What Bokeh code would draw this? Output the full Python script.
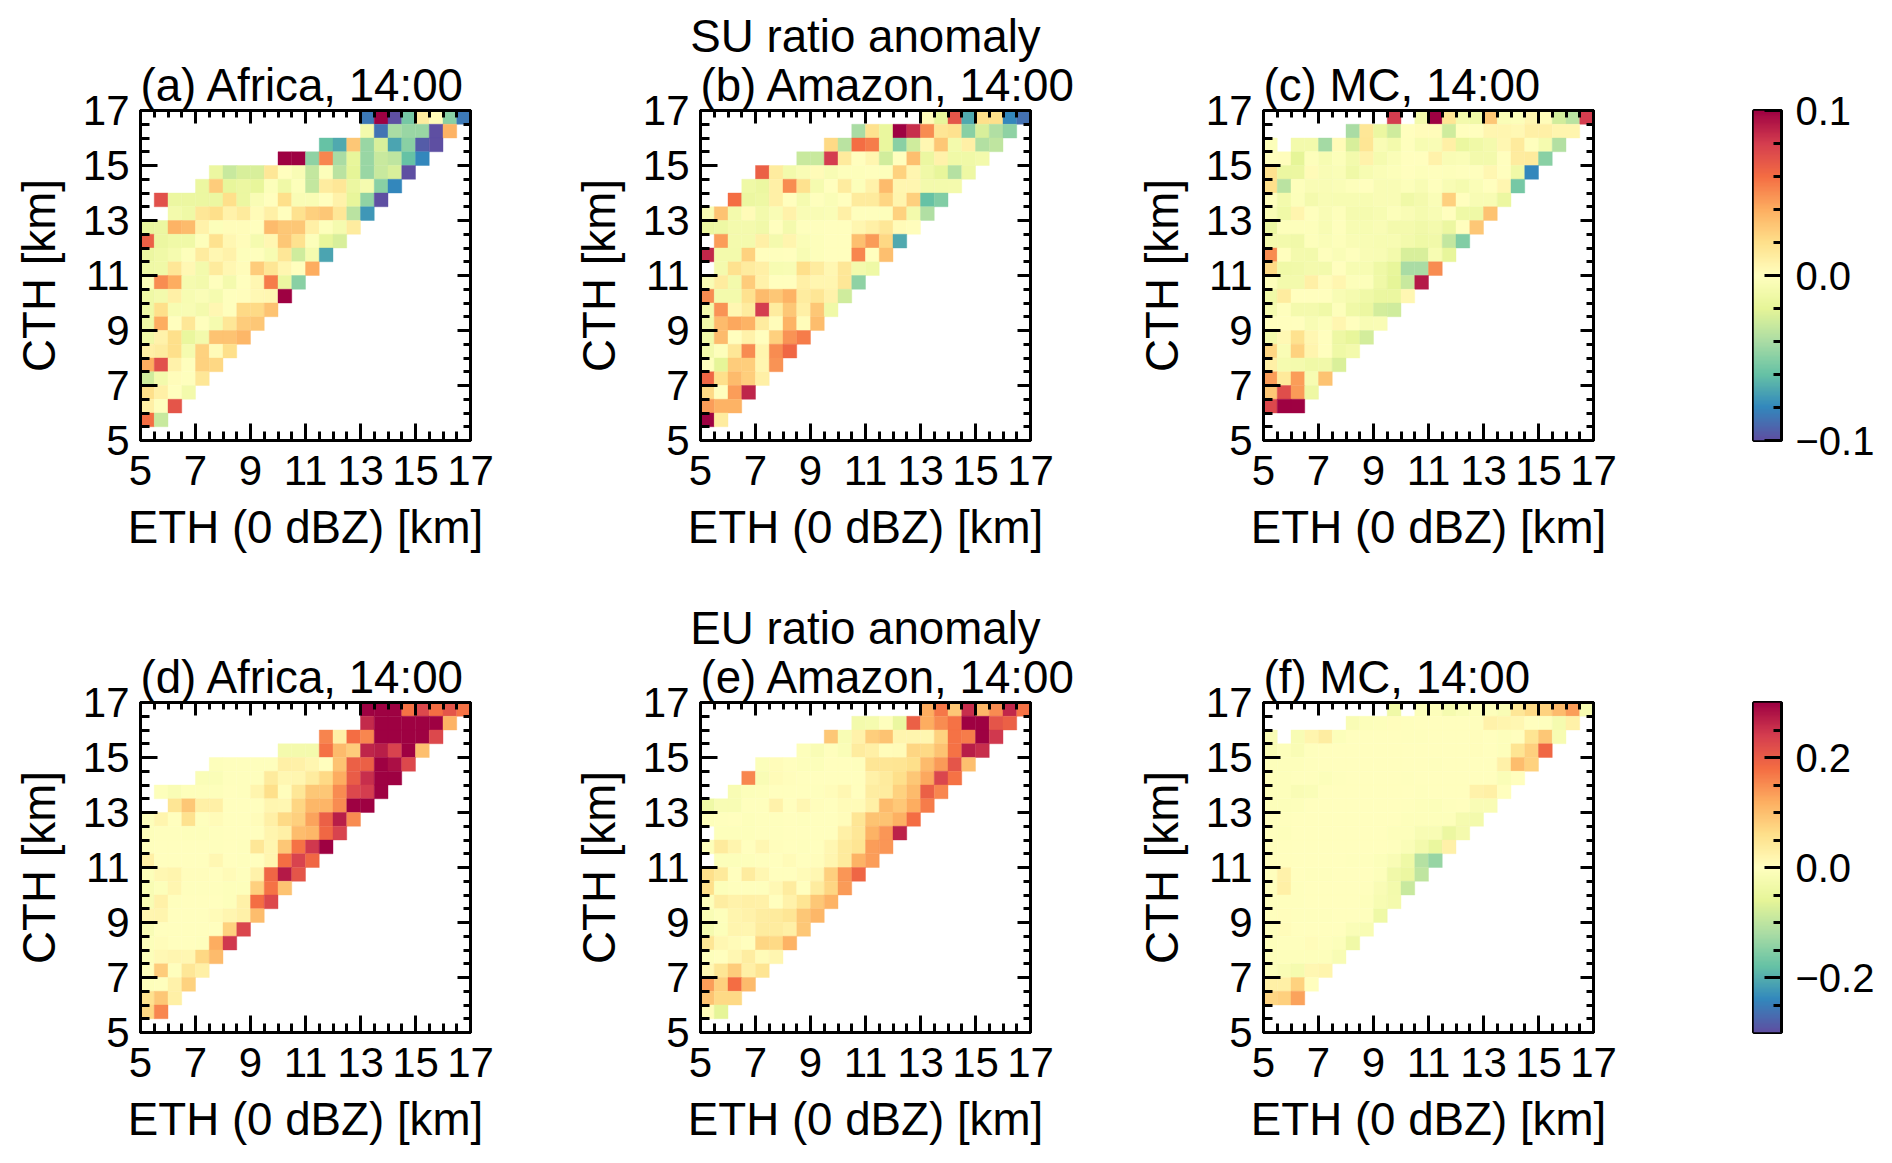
from bokeh.plotting import figure
from bokeh.layouts import column, row
from bokeh.models import Range1d, FixedTicker, LinearAxis, LinearColorMapper, ColumnDataSource, Title
from bokeh.palettes import Spectral11
from bokeh.embed import file_html
from bokeh.resources import INLINE
import numpy as np

# Values are in tenths of each row's colour-scale limit; rows run from the 16.5-17 km bin down.
A_START = [16,16,13,10,5,4,1,2,0,0,0,0,0,0,0,0,0,0,0,0,0,0,0]
A_ROWS = [
 [-8.5,10,-10,-5.5,1.2,0.3,-5,-8.5],
 [-1,-8.7,-4,-4.5,-4.5,-10,3.8],
 [-6,-6.8,3,-4.5,-2.5,-7,-5,-9.5,-10],
 [10,10,-4.8,5.2,-4,-1.8,-4.5,-3,-3.3,-6,-8],
 [-1.5,-3,-2.5,-2.5,1.5,0,-0.5,-3.2,-0.3,-3.5,-2,-4.5,-3,-2.5,-10],
 [-1.5,2.8,-1.8,-1.5,-1.8,-0.3,-1.2,-0.3,-3.2,1.2,1.5,-1.5,-0.8,-5,-8],
 [7.2,-1.5,-1.5,-1.5,-1.5,2,-1.5,-0.5,0,2,-0.5,-0.5,0,0.8,-1.8,-4.7,-10],
 [-1,-1.3,1.5,2,0.8,1.3,0.3,1,0,1.8,2.6,3,1.5,-3.5,-7.5],
 [-1.7,-1.5,3.8,3.5,0.8,-0.3,0.2,0.2,0,3.5,3,3,1,-0.2,-0.8,1.2],
 [6.5,-1.5,-1.2,-1.2,-0.2,1.8,0.5,0.2,-0.8,0.5,3,1.8,-0.3,-1.8,-2.5],
 [-1.5,-1.2,-0.8,-0.2,1.2,0.5,0.8,-0.2,-0.1,-0.7,1.5,-2.8,-0.8,-7],
 [-1.3,-1.2,1.5,0.4,-1,1.3,0.5,0.2,2.8,1.6,0.6,0,4],
 [-0.3,5,4,-0.8,-1,-0.1,-0.9,0,0.5,5.5,-1.5,-5],
 [-1.3,-1,1,-0.7,-0.4,-0.8,-0.1,0.1,0.4,0.5,10],
 [-1.3,2,-0.7,-0.6,-0.9,0.5,-0.1,2.2,2.2,3.2],
 [-1.3,4,0,1.5,-0.1,-0.8,1.5,2.8,3],
 [-1.2,0.8,2,-1.7,-1,3.2,3.2,3.6],
 [1,1.2,2,-0.8,2.5,0.3,2],
 [4,7.2,0.8,-0.1,2.5,2.3],
 [-2.8,-1,0.2,-0.1,1.5],
 [2,1,0,-1],
 [1,-0.1,7],
 [6,-3],
]
B_START = [16,11,9,7,4,3,2,0,0,1,0,1,0,0,0,0,0,0,0,0,0,0,0]
B_ROWS = [
 [0.2,-1.8,7,-6.8,2,2,-8,-8.8],
 [-4,1.8,-1.7,10,8.5,5,1.6,1.8,-5,-2.5,-3.8,-4.8],
 [2.2,-3.5,6,5.5,-1.7,-5,-2.8,0.5,3,-1,1,-3.7,-3.3],
 [-3,-3,8,1.3,0,0.6,-2.7,0,3.3,-1.5,0.8,-1.2,-1.2,-1],
 [6.5,1.2,-1,-0.5,0.3,-0.6,-0.2,-0.2,-0.1,-0.2,2.5,0.6,-1.2,-1.8,-3.6,-1.4],
 [-1.3,-1.5,1,5,1.8,-0.8,0,1.2,-0.3,0.8,3.5,0.6,0.6,-1,-1,-0.9],
 [6,-1.5,-1.4,1,0,-0.8,-0.1,-0.4,0,1.3,1.3,2.4,0.7,2.6,-6,-5.2],
 [-0.5,3.2,-1,0.3,-1,-0.5,0.8,-0.5,-0.5,-0.4,1,-0.1,-0.1,-0.2,2.5,-1,-3.8],
 [-1.5,-1.4,-0.9,-0.9,-1.1,0,-0.9,-0.1,-0.1,0,0,0.6,1,1.5,0.3,0.1],
 [4.5,-0.9,-0.9,1,-0.9,0.7,-0.4,-0.2,0,0,3.3,4.6,2.3,-6.8],
 [8.7,-1,-1,2.5,0,-0.1,0,-0.6,-0.2,0,0,5.2,0,3.3],
 [-0.9,1.8,1.2,1,-0.7,-0.6,2,1.2,0.5,1.5,-1,-1.3],
 [-0.5,1.2,-1,2.8,0.8,0,0,1,0.6,0.6,1.5,-4.8],
 [5,-1,-1,1.8,3.5,3,3.8,1.2,1.6,0.8,-2.8],
 [-1,4.8,0.5,1.2,8,1.2,3,1,3,-1.2],
 [-1.1,3.5,4.2,3.8,1.2,0.2,3.8,0.2,3.4],
 [-1.1,3.5,0,0.8,0,2.6,4.8,5.5],
 [-1,-0.2,1.5,5,0.7,5,6.2],
 [-0.1,-2,2.8,2.7,0.6,4.8],
 [6.3,2,3.5,2.7,1],
 [2.2,0,4.5,8.8],
 [4.5,3.8,3.8],
 [10,1.2],
]
C_START = [9,6,0,0,0,0,0,0,0,0,0,0,0,0,0,0,0,0,0,0,0,0]
C_ROWS = [
 [8,None,-1,10,1.6,-1,-1.2,3,-0.4,-0.3,0.6,0.2,-2.7,-3.5,8],
 [-4,1.5,-1.5,-2.8,0,0.2,0.2,-2.8,0,0,0.6,0.6,0.4,1,1,0.7,0.7],
 [-0.3,None,-1,-1,-4.2,0.3,-2.5,1.6,-0.5,-1,-0.1,-0.7,-0.5,1,-1.6,-1.2,-0.9,0.5,1.3,-0.1,-0.8,-3.7],
 [0,0.1,-2,-0.2,-0.7,-0.3,-1,0.8,-0.8,-0.4,0,0,0.8,-0.5,-0.4,-1,-1,0,1.2,1.3,-5],
 [1.8,-1.5,-1.5,0.3,-0.5,-0.4,-1.2,-0.7,-0.4,-0.3,0,-0.2,-0.1,-0.2,-0.1,-0.1,0.5,0,-1.2,-8],
 [2,-3.5,-0.2,-0.5,-0.5,-0.4,-0.2,0,-0.5,-0.5,-0.3,-0.6,-0.1,-0.6,-0.8,-0.4,0,0.6,-5.5],
 [-0.1,-1,-0.3,-0.9,-0.6,-0.7,-0.7,-0.7,-0.5,-0.5,-1.2,-0.9,-0.4,2.6,0,-0.6,-0.6,-1.5],
 [-0.5,-1.2,0.7,-0.1,-0.5,-0.2,-0.8,-0.8,-0.7,-0.3,-0.5,-0.8,-0.6,0,-1.3,-1.3,3.2],
 [-1.5,-0.2,-0.2,-0.2,-0.6,-0.1,-0.7,-0.7,-0.5,-0.9,-0.9,-1.1,-0.9,-1.5,0,3],
 [-0.9,-1,-1.1,-0.2,-0.4,-0.2,-0.5,-0.6,-0.7,-0.7,-1,-1.3,-1.1,-3.2,-5.2],
 [5,0,-0.9,-1,-0.1,-0.4,-0.1,-0.5,-0.6,-1,-2.5,-2.5,-0.7,-1.8],
 [2.2,-1.2,-1.1,-0.9,-1,0,-0.7,-0.7,-1.3,-1.8,-4,-4,5],
 [-0.2,-1,-1,1,0.2,0.6,-0.3,-0.3,-1.2,-2,-3,9.2],
 [-1.2,1.2,0,0,0,-0.6,-0.8,-1.2,-1.6,-1.6,0.5],
 [-0.8,-0.1,-0.9,-0.9,-1.2,-0.2,-1.2,-1.5,-2.6,-2.8],
 [0,0,0,-0.6,-0.3,0.6,0,-0.6,-0.5],
 [-1,0.4,1.8,0.5,0,-1.4,-1.8,-2.6],
 [2.4,-0.5,2.5,0.7,0,-1.3,-1],
 [1,-0.8,-0.9,-1.2,-1.1,-2.4],
 [4.5,1.4,4.5,-0.7,3.2],
 [3,7.3,4.6,-1.4],
 [7.5,10,10],
]
D_START = [16,16,13,10,5,4,1,2,0,0,0,0,0,0,0,0,0,0,0,0,0,0,0]
D_ROWS = [
 [10,10,10,5.8,7.5,6,7,5.8],
 [8.6,10,10,10,10,10,3.8],
 [5.3,1,6,5.2,10,10,10,10,7.5],
 [-0.9,-0.9,-0.9,5.8,3.5,2.8,8.8,9,7.8,10,3.3],
 [-0.2,-0.1,-0.1,-0.1,-0.1,1,0.9,0.6,0,3.2,6.5,6.5,10,9.5,7.5],
 [-0.4,-0.4,-0.1,-0.1,-0.1,1.3,0.5,0.6,1.2,2.2,4,6.7,8.5,10,10],
 [-0.2,-0.5,-0.2,-0.2,-0.2,0,-0.1,0.7,2,0.1,1.5,3,3,5,7.5,8,10],
 [1.6,3,1,1,0,0,0,0.6,0.5,2.4,3.6,3.7,5,10,10],
 [-0.2,0.7,0,1.8,-0.1,0.3,0,0,0.2,1,2.2,2.6,4.3,6.5,9,5],
 [-0.2,-0.1,-0.1,-0.2,-0.2,-0.1,0,0,0,0.7,1,3.4,3.6,6.2,7.8],
 [-0.1,0,0,0,0,-0.1,0,-0.1,1.5,0.6,3,5.8,8.2,10],
 [1,0,0,0,0,0.5,0,-0.1,0,0.6,6,7.8,6.2],
 [-0.3,0.5,0.7,0.1,0.1,0,0.3,-0.1,0.8,6.3,9.2,7],
 [-0.6,-0.3,0.6,-0.1,-0.1,-0.1,-0.2,-0.2,2.6,5.8,3.2],
 [-0.6,0.9,-0.1,0,0,0,-0.2,0.9,6,7.5],
 [0.6,0.7,0,0,0,0.3,0.6,0.9,3.4],
 [-0.5,0,0,0,0,0,2.5,7.6],
 [-0.3,0.2,0,0,-0.1,4,8.2],
 [-0.3,0.4,0.6,0.5,2.3,3.5],
 [-0.1,2.8,-0.1,1.5,1],
 [-0.2,-0.1,0.8,2.5],
 [1.8,3,1],
 [2.3,5.2],
]
E_START = [16,11,9,7,4,3,2,0,0,1,0,1,0,0,0,0,0,0,0,0,0,0,0]
E_ROWS = [
 [4,5.7,3,8.5,3.6,5,8.7,5.8],
 [-1,-0.8,-0.1,-1.6,6.5,4,5,5.8,10,10,7,6.5],
 [3,-0.6,0.8,2.7,3.2,0.7,0.7,0.6,2.5,5.8,5.5,10,8.2],
 [-0.2,-0.5,-0.1,-0.4,1.2,1,0.2,0.3,2.4,2.2,3.2,5.8,9,8.5],
 [-0.3,0.2,0,-0.2,-0.3,0,0,-0.1,1.6,1.6,1.7,2,3.5,4.6,7,3.3],
 [5.2,-0.5,0.3,0.1,0,0,0,0,0,0.9,1.3,2,3,4.2,7.6,5.8],
 [-0.6,-0.3,-0.2,0,0,0,-0.1,0.2,0.5,0,1.1,1.2,2.5,3.5,6.5,5.2],
 [-1.3,-0.6,-0.6,-0.1,-0.1,0.8,0,0.5,0.1,0,0.3,0.3,1,3.5,2.9,4,5.5],
 [-0.2,-0.1,0,-0.2,-0.1,-0.1,0,-0.1,0,0,0.2,1.6,3.2,3.2,3.9,6],
 [-0.2,-0.2,-0.2,-0.1,-0.1,0,0,0,0,1,1.5,3.8,4.7,8.9],
 [-0.2,1.3,0.7,0,0.5,0.1,0,-0.1,0,0.5,1.3,1.7,4.5,4.7],
 [-0.3,-0.3,-0.2,-0.1,0,0.3,0,0.1,0.6,1.3,3.8,4.5],
 [2,1.4,0,1.2,0.5,0,0,0.3,0.5,2.6,4.7,6.3],
 [2,-0.3,-0.1,-0.1,-0.1,0.4,1.2,0,1.2,2.4,4.6],
 [-0.2,1.1,0.8,1,0.9,0,0.8,1.7,3,3.8],
 [-0.5,-0.2,0.7,0.8,1.1,1.3,1.6,3,3.6],
 [-0.8,-0.3,0.7,0.6,1.2,1.2,1,3],
 [1.6,0.5,0.3,0,2.4,2.2,3.8],
 [-0.2,0,0.5,1.1,0.3,0.6],
 [0.4,1.6,2.8,1,1.7],
 [4.5,2.6,6,3.5],
 [3.2,2.2,2.2],
 [0.2,-2],
]
F_START = [9,6,0,0,0,0,0,0,0,0,0,0,0,0,0,0,0,0,0,0,0,0]
F_ROWS = [
 [-1.2,None,-0.3,-0.2,-0.8,-0.4,-0.2,-0.2,-0.5,1.5,2.2,2.5,3.5,4.5,-0.7],
 [-0.5,-0.3,-0.2,0.1,-0.1,0,0,0,0,-0.1,0.8,0.7,0.5,0,-0.1,-0.8,0.9],
 [-0.5,None,-0.6,0.7,1.1,-0.3,0,0,0,0,-0.1,-0.1,0,0,0,0.1,0,-0.2,0,1.7,3,-0.7],
 [-0.5,-0.2,-0.5,-0.1,0,0,0,0,0,0,0,0,0,0,0,0.1,0,-0.2,1.7,2.6,6.2],
 [-0.2,-0.2,-0.2,-0.1,0,0,0,0,0,0,0,0,-0.1,0,0,0,0,0.9,3.4,2.5],
 [-0.2,-0.2,-0.1,-0.1,-0.3,-0.1,0,0,0,0,-0.1,0,0,0,0,0,0,-0.4,0],
 [-0.2,-0.2,-0.5,-0.4,0,0,0,0,0,0,0,-0.1,0,0,0,0.8,1,0],
 [-0.3,-0.3,-0.2,0,0,0,0,0,0,0,-0.1,-0.2,-0.3,-0.1,0,-0.5,-0.5],
 [-0.1,-0.1,0,0,0,0,0,0,0,0,-0.2,-0.2,-0.2,-0.2,-0.8,-1],
 [-0.1,-0.2,0,0,0,0,0,0,0,-0.2,-0.2,-0.6,-0.6,-1.5,-0.9],
 [-0.1,0,0,0,0,0,0,0,0,-0.1,-0.4,-1,-1.7,0.9],
 [0,0,0,0,0,0,-0.1,-0.1,-0.3,-0.5,-1.3,-3.6,-4.6],
 [-0.1,0.8,0,-0.1,-0.1,0,0,0,-0.2,-1.1,-1.5,-3.3],
 [-0.1,1,-0.1,0,0,0,0,-0.1,-0.5,-1,-3],
 [-0.1,-0.1,-0.1,0,0,0,0,-0.2,-0.7,-0.9],
 [-0.1,0.1,-0.1,-0.1,-0.1,0,0,-0.1,-1.3],
 [-0.2,0.2,0,0,0,0,-0.4,-0.6],
 [-0.2,-0.1,-0.1,0.2,-0.1,-0.3,-1.2],
 [-0.3,-0.2,-0.2,-0.2,-0.2,-0.6],
 [-0.3,-0.5,-0.8,0.5,0.7],
 [1,1,2.5,0],
 [2.4,2.6,4.3],
]

TITLES = ["(a) Africa, 14:00", "(b) Amazon, 14:00", "(c) MC, 14:00",
          "(d) Africa, 14:00", "(e) Amazon, 14:00", "(f) MC, 14:00"]
SUPTITLES = ["SU ratio anomaly", "EU ratio anomaly"]
LIMITS = [0.1, 0.3]
XLABEL = "ETH (0 dBZ) [km]"
YLABEL = "CTH [km]"
AXIS_TICKS = [5, 7, 9, 11, 13, 15, 17]

FONT = "Liberation Sans"
TICK_FS = "42px"
LABEL_FS = "45.7px"
LW = 3


def spectral(n=256):
    anchors = [tuple(int(c[i:i + 2], 16) for i in (1, 3, 5)) for c in Spectral11]
    out = []
    for k in range(n):
        t = k / (n - 1) * 10
        i = min(int(t), 9)
        f = t - i
        rgb = [round(anchors[i][j] + (anchors[i + 1][j] - anchors[i][j]) * f) for j in range(3)]
        out.append("#%02x%02x%02x" % tuple(rgb))
    return out


PALETTE = spectral()


def style_axis(ax, ticks, minor):
    ax.ticker = FixedTicker(ticks=ticks, minor_ticks=minor)
    ax.axis_line_color = "black"
    ax.axis_line_width = LW
    ax.major_tick_line_color = "black"
    ax.major_tick_line_width = LW
    ax.minor_tick_line_color = "black"
    ax.minor_tick_line_width = LW
    ax.major_tick_out = 0
    ax.minor_tick_out = 0
    ax.major_label_text_font = FONT
    ax.major_label_text_font_size = TICK_FS
    ax.major_label_text_color = "black"
    ax.axis_label_text_font = FONT
    ax.axis_label_text_font_size = LABEL_FS
    ax.axis_label_text_font_style = "normal"
    ax.axis_label_text_color = "black"


def panel(rows, starts, limit, title, left, right, top, bottom, sup=None):
    xl, xr, yb, yt, val = [], [], [], [], []
    for j, (r, s) in enumerate(zip(rows, starts)):
        for k, v in enumerate(r):
            if v is None:
                continue
            xl.append(5 + 0.5 * (s + k))
            xr.append(5.5 + 0.5 * (s + k))
            yt.append(17 - 0.5 * j)
            yb.append(16.5 - 0.5 * j)
            val.append(v * limit / 10)
    src = ColumnDataSource(dict(left=xl, right=xr, bottom=yb, top=yt, v=val))
    p = figure(frame_width=330, frame_height=330, output_backend="svg", toolbar_location=None,
               x_range=Range1d(5, 17), y_range=Range1d(5, 17),
               min_border_left=left, min_border_right=right, min_border_top=top, min_border_bottom=bottom)
    p.grid.visible = False
    p.outline_line_color = "black"
    p.outline_line_width = LW
    mapper = LinearColorMapper(palette=PALETTE, low=-limit, high=limit)
    c = {"field": "v", "transform": mapper}
    p.quad(left="left", right="right", bottom="bottom", top="top", source=src, fill_color=c, line_color=c, line_width=0.4)
    minor = [5 + 0.5 * i for i in range(25)]
    for ax in (p.xaxis[0], p.yaxis[0]):
        style_axis(ax, AXIS_TICKS, minor)
        ax.major_tick_in = 17
        ax.minor_tick_in = 9
    p.xaxis[0].axis_label = XLABEL
    p.yaxis[0].axis_label = YLABEL
    p.xaxis[0].major_label_standoff = 15
    p.yaxis[0].major_label_standoff = 11
    p.xaxis[0].axis_label_standoff = 14
    p.yaxis[0].axis_label_standoff = 15
    for side in ("right", "above"):
        ax = LinearAxis()
        style_axis(ax, AXIS_TICKS, minor)
        ax.major_tick_in = 13
        ax.minor_tick_in = 7
        ax.major_label_overrides = {t: "" for t in AXIS_TICKS}
        ax.major_label_standoff = 0
        p.add_layout(ax, side)
    tkw = dict(text_font=FONT, text_font_size=LABEL_FS, text_font_style="normal", text_color="black")
    p.title.text = sup if sup else title
    p.title.text_font = FONT
    p.title.text_font_size = LABEL_FS
    p.title.text_font_style = "normal"
    p.title.text_color = "black"
    p.title.align = "center" if sup else "left"
    p.title.standoff = -8 if sup else 0
    if sup:
        p.add_layout(Title(text=title, align="left", standoff=0, **tkw), "above")
    return p


def colorbar(limit, major, minor, labels, top, bottom):
    p = figure(frame_width=28, frame_height=330, output_backend="svg", toolbar_location=None,
               x_range=Range1d(0, 1), y_range=Range1d(-limit, limit), y_axis_location="right",
               min_border_left=113, min_border_right=100, min_border_top=top, min_border_bottom=bottom)
    p.grid.visible = False
    p.xaxis.visible = False
    p.outline_line_color = "black"
    p.outline_line_width = LW
    mapper = LinearColorMapper(palette=PALETTE, low=-limit, high=limit)
    n = len(PALETTE)
    grad = [[-limit + 2 * limit * i / (n - 1)] for i in range(n)]
    p.image(image=[np.array(grad)], x=0, y=-limit, dw=1, dh=2 * limit, color_mapper=mapper)
    ax = p.yaxis[0]
    style_axis(ax, major, minor)
    ax.major_label_text_font_size = "40px"
    ax.major_tick_in = 17
    ax.minor_tick_in = 8
    ax.major_label_overrides = labels
    ax.major_label_standoff = 14
    return p


T1, B1 = 110, 159
T2, B2 = 103, 112
a = panel(A_ROWS, A_START, LIMITS[0], TITLES[0], 140, 50, T1, B1)
b = panel(B_ROWS, B_START, LIMITS[0], TITLES[1], 180, 50, T1, B1, sup=SUPTITLES[0])
c = panel(C_ROWS, C_START, LIMITS[0], TITLES[2], 183, 47, T1, B1)
d = panel(D_ROWS, D_START, LIMITS[1], TITLES[3], 140, 50, T2, B2)
e = panel(E_ROWS, E_START, LIMITS[1], TITLES[4], 180, 50, T2, B2, sup=SUPTITLES[1])
f = panel(F_ROWS, F_START, LIMITS[1], TITLES[5], 183, 47, T2, B2)
cb1 = colorbar(0.1, [-0.1, 0.0, 0.1], [-0.08, -0.06, -0.04, -0.02, 0.02, 0.04, 0.06, 0.08],
               {-0.1: "\u22120.1", 0.0: "0.0", 0.1: "0.1"}, T1, B1)
cb2 = colorbar(0.3, [-0.2, 0.0, 0.2], [-0.25, -0.15, -0.1, -0.05, 0.05, 0.1, 0.15, 0.25],
               {-0.2: "\u22120.2", 0.0: "0.0", 0.2: "0.2"}, T2, B2)
layout = column(row(a, b, c, cb1, spacing=0), row(d, e, f, cb2, spacing=0), spacing=0)
open("out.html", "w").write(file_html(layout, INLINE))
